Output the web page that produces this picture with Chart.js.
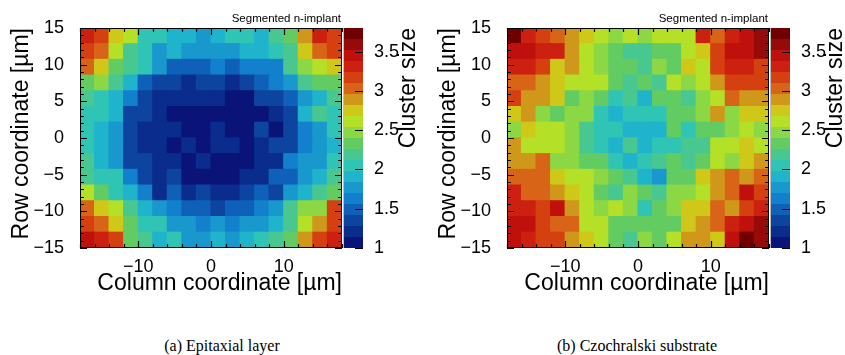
<!DOCTYPE html>
<html>
<head>
<meta charset="utf-8">
<title>Cluster size maps</title>
<script src="https://cdn.jsdelivr.net/npm/chart.js@4"></script>
<style>
  body { margin: 0; background: #fff; width: 845px; height: 355px; position: relative; overflow: hidden; }
  .panel { position: absolute; top: 0; width: 418px; height: 300px; }
  .caption { position: absolute; top: 337px; font-family: "Liberation Serif", serif; font-size: 16px; color: #000;
             transform: translateX(-50%); white-space: nowrap; }
</style>
</head>
<body>
<div class="panel" style="left:0"><canvas id="epi" width="418" height="300"></canvas></div>
<div class="panel" style="left:427px"><canvas id="cz" width="418" height="300"></canvas></div>
<div class="caption" style="left:222px">(a) Epitaxial layer</div>
<div class="caption" style="left:637px">(b) Czochralski substrate</div>

<script>
// binning of the pixel maps (µm)
const xRange = [-18, 18], xBins = 18;
const yRange = [-15, 15], yBins = 14;
// colour scale of the cluster size
const zRange = [1, 3.8];
const palette = ['#0a1478', '#0a2c8c', '#0c44a0', '#0e60b8', '#1280cc', '#1898cc', '#20b4cc', '#30c4b4',
                 '#48c890', '#62cc62', '#8cd844', '#b4e028', '#d0c818', '#d0981a', '#d86418', '#d44010',
                 '#cc2010', '#c0100c', '#960a0a', '#700000'];

// mean cluster size per bin, rows from row coordinate +15 (top) down to -15
const clusterEpi = [
  [3.31, 3.17, 2.75, 2.61, 2.05, 2.05, 1.91, 1.91, 1.77, 1.91, 2.05, 2.05, 1.91, 2.19, 2.33, 2.89, 3.31, 3.17],
  [3.17, 3.03, 2.61, 2.19, 2.05, 1.77, 1.91, 1.77, 1.77, 1.77, 1.77, 1.91, 1.91, 2.05, 2.19, 2.75, 3.03, 3.17],
  [3.03, 2.75, 2.33, 2.19, 2.05, 1.77, 1.49, 1.49, 1.49, 1.63, 1.49, 1.63, 1.63, 1.63, 2.19, 2.47, 2.61, 2.75],
  [2.33, 2.47, 2.19, 1.91, 1.49, 1.35, 1.35, 1.21, 1.35, 1.35, 1.21, 1.35, 1.49, 1.63, 1.77, 2.19, 2.33, 2.33],
  [2.19, 2.05, 1.91, 1.63, 1.35, 1.21, 1.21, 1.21, 1.21, 1.21, 1.07, 1.07, 1.35, 1.35, 1.49, 1.77, 1.91, 2.19],
  [2.05, 2.05, 1.91, 1.35, 1.35, 1.21, 1.07, 1.07, 1.07, 1.07, 1.07, 1.07, 1.07, 1.21, 1.35, 1.91, 2.19, 2.05],
  [2.05, 1.91, 1.77, 1.35, 1.21, 1.21, 1.21, 1.07, 1.07, 1.21, 1.07, 1.07, 1.35, 1.07, 1.35, 1.63, 1.77, 2.05],
  [2.05, 1.91, 1.77, 1.35, 1.21, 1.21, 1.07, 1.21, 1.07, 1.21, 1.21, 1.07, 1.21, 1.35, 1.35, 1.63, 1.77, 1.91],
  [2.19, 1.91, 1.77, 1.35, 1.35, 1.21, 1.21, 1.07, 1.21, 1.07, 1.07, 1.07, 1.21, 1.21, 1.63, 1.77, 1.77, 2.05],
  [2.19, 2.05, 2.05, 1.63, 1.35, 1.21, 1.35, 1.07, 1.07, 1.07, 1.07, 1.21, 1.21, 1.49, 1.49, 1.77, 1.91, 2.19],
  [2.61, 2.33, 2.05, 1.91, 1.63, 1.21, 1.49, 1.21, 1.35, 1.21, 1.21, 1.35, 1.49, 1.35, 1.77, 1.91, 2.19, 2.33],
  [3.03, 2.75, 2.61, 2.19, 1.91, 1.77, 1.63, 1.49, 1.49, 1.35, 1.49, 1.49, 1.63, 1.77, 2.19, 2.47, 2.47, 3.17],
  [3.17, 3.03, 2.75, 2.33, 2.05, 2.05, 1.77, 1.77, 1.63, 1.77, 1.63, 1.77, 1.77, 1.91, 2.19, 2.61, 2.89, 3.17],
  [3.45, 3.31, 3.17, 2.33, 2.19, 1.91, 2.05, 1.77, 1.77, 1.91, 1.77, 1.91, 2.05, 2.19, 2.33, 2.89, 3.17, 3.31]
];
const clusterCz = [
  [3.73, 3.31, 3.17, 3.03, 2.89, 2.75, 2.61, 2.47, 2.61, 2.47, 2.61, 2.61, 2.61, 3.31, 3.03, 3.31, 3.45, 3.59],
  [3.45, 3.45, 3.31, 3.31, 2.89, 2.61, 2.47, 2.33, 2.19, 2.19, 2.33, 2.33, 2.61, 2.75, 3.17, 3.45, 3.45, 3.59],
  [3.31, 3.31, 3.17, 2.75, 2.89, 2.61, 2.47, 2.33, 2.33, 2.19, 2.47, 2.33, 2.75, 2.61, 3.17, 3.31, 3.31, 3.17],
  [3.03, 3.03, 2.89, 2.75, 2.61, 2.61, 2.61, 2.33, 2.19, 2.33, 2.19, 2.61, 2.47, 2.61, 2.89, 3.17, 3.17, 3.17],
  [3.17, 2.89, 2.89, 2.75, 2.33, 2.47, 2.33, 2.05, 2.19, 1.91, 2.33, 2.33, 2.19, 2.47, 2.61, 3.03, 2.89, 2.89],
  [2.75, 2.89, 2.47, 2.33, 2.47, 2.47, 2.05, 1.91, 2.05, 2.05, 2.05, 2.33, 2.33, 2.47, 2.89, 2.47, 2.75, 2.75],
  [2.47, 2.75, 2.61, 2.61, 2.47, 2.19, 2.05, 2.05, 1.91, 1.91, 1.91, 2.33, 2.05, 2.33, 2.33, 2.47, 2.61, 2.47],
  [2.89, 2.61, 2.61, 2.61, 2.47, 2.19, 2.05, 1.91, 2.19, 1.91, 2.05, 2.05, 2.19, 2.19, 2.61, 2.61, 2.75, 2.61],
  [2.89, 2.89, 3.03, 2.47, 2.47, 2.33, 2.33, 2.05, 1.91, 2.05, 2.19, 2.33, 2.19, 2.33, 2.61, 2.47, 2.75, 2.89],
  [3.03, 3.03, 3.03, 2.75, 2.61, 2.61, 2.47, 2.33, 2.19, 1.91, 1.77, 2.33, 2.33, 2.75, 2.89, 3.03, 2.89, 3.03],
  [3.31, 3.03, 3.03, 2.89, 2.75, 2.61, 2.33, 2.19, 2.47, 2.33, 2.19, 2.47, 2.47, 2.61, 2.89, 3.03, 3.45, 3.17],
  [3.31, 3.31, 3.17, 3.45, 2.89, 2.61, 2.47, 2.61, 2.47, 2.05, 2.33, 2.47, 2.75, 2.75, 3.03, 2.89, 3.17, 3.31],
  [3.45, 3.45, 3.17, 3.03, 3.03, 2.61, 2.61, 2.33, 2.33, 2.33, 2.33, 2.33, 2.75, 2.89, 3.03, 3.31, 3.45, 3.59],
  [3.45, 3.31, 3.17, 3.17, 2.89, 2.75, 2.61, 2.33, 2.19, 2.47, 2.33, 2.61, 2.89, 2.89, 2.75, 3.45, 3.73, 3.59]
];

const FONT = '"Liberation Sans", Arial, Helvetica, sans-serif';

function colourFor(v) {
  const i = Math.floor((v - zRange[0]) / (zRange[1] - zRange[0]) * palette.length);
  return palette[Math.max(0, Math.min(palette.length - 1, i))];
}

// every bin becomes a floating bar spanning its row interval
function binsToBars(rows) {
  const dx = (xRange[1] - xRange[0]) / xBins;
  const dy = (yRange[1] - yRange[0]) / yBins;
  const data = [], colours = [];
  rows.forEach((row, r) => {
    const hi = yRange[1] - r * dy;
    row.forEach((v, c) => {
      data.push({ x: xRange[0] + (c + 0.5) * dx, y: [hi - dy, hi], v: v });
      colours.push(colourFor(v));
    });
  });
  return { data, colours };
}

const minus = v => (v < 0 ? '\u2212' + Math.abs(v) : String(v));
const plain = v => String(Math.round(v * 10) / 10);

// frame, inward tick marks, colour bar and the small labels (ROOT look)
const rootFrame = {
  id: 'rootFrame',
  afterDatasetsDraw(chart) {
    const { ctx, chartArea: a, scales } = chart;
    const x = scales.x, y = scales.y, z = scales.z;
    ctx.save();
    ctx.strokeStyle = '#000';
    ctx.lineWidth = 1.2;
    ctx.beginPath();
    for (let v = xRange[0]; v <= xRange[1]; v += 2) {
      const px = Math.round(x.getPixelForValue(v)) + 0.5;
      const len = v % 10 === 0 ? 7 : 4;
      ctx.moveTo(px, a.bottom); ctx.lineTo(px, a.bottom - len);
      ctx.moveTo(px, a.top); ctx.lineTo(px, a.top + len);
    }
    for (let v = yRange[0]; v <= yRange[1]; v += 1) {
      const py = Math.round(y.getPixelForValue(v)) + 0.5;
      const len = v % 5 === 0 ? 7 : 4;
      ctx.moveTo(a.left, py); ctx.lineTo(a.left + len, py);
      ctx.moveTo(a.right, py); ctx.lineTo(a.right - len, py);
    }
    ctx.stroke();
    ctx.lineWidth = 1;
    ctx.strokeRect(a.left + 0.5, a.top + 0.5, a.right - a.left - 1, a.bottom - a.top - 1);

    // colour bar next to the frame
    const barL = a.right + 1, barW = 20;
    const step = (zRange[1] - zRange[0]) / palette.length;
    palette.forEach((col, i) => {
      const y0 = Math.round(z.getPixelForValue(zRange[0] + i * step));
      const y1 = Math.round(z.getPixelForValue(zRange[0] + (i + 1) * step));
      ctx.fillStyle = col;
      ctx.fillRect(barL, y1, barW, y0 - y1);
    });
    ctx.strokeStyle = '#bbb';
    ctx.beginPath();
    ctx.moveTo(barL + 0.5, a.top); ctx.lineTo(barL + 0.5, a.bottom);
    ctx.stroke();
    ctx.strokeStyle = '#000';
    ctx.lineWidth = 1.2;
    ctx.beginPath();
    z.ticks.forEach(t => {
      const py = Math.round(z.getPixelForValue(t.value)) + 0.5;
      ctx.moveTo(barL + barW, py); ctx.lineTo(barL + barW - 8, py);
    });
    ctx.stroke();

    ctx.fillStyle = '#000';
    ctx.font = '23px ' + FONT;
    ctx.translate(a.right + 73, a.top);
    ctx.rotate(-Math.PI / 2);
    ctx.textAlign = 'right';
    ctx.textBaseline = 'alphabetic';
    ctx.fillText('Cluster size', 0, 0);
    ctx.restore();

    ctx.save();
    ctx.fillStyle = '#000';
    ctx.font = '11.5px ' + FONT;
    ctx.textAlign = 'right';
    ctx.fillText('Segmented n-implant', a.right - 1, a.top - 6);
    ctx.restore();
  }
};

function drawMap(canvasId, rows) {
  const bars = binsToBars(rows);
  return new Chart(document.getElementById(canvasId), {
    type: 'bar',
    data: {
      datasets: [{
        data: bars.data,
        backgroundColor: bars.colours,
        borderWidth: 0,
        barPercentage: 1,
        categoryPercentage: 1,
        inflateAmount: 0.6
      }]
    },
    options: {
      responsive: false,
      animation: false,
      events: [],
      layout: { padding: { top: 28, left: 0, right: 0, bottom: 0 } },
      plugins: { legend: { display: false }, tooltip: { enabled: false } },
      scales: {
        x: {
          type: 'linear', min: xRange[0], max: xRange[1], offset: false,
          grid: { display: false }, border: { display: false },
          ticks: { stepSize: 10, includeBounds: false, padding: 0, color: '#000',
                   font: { family: FONT, size: 18 }, callback: minus },
          title: { display: true, text: 'Column coordinate [\u00b5m]', align: 'end', color: '#000',
                   font: { family: FONT, size: 23 }, padding: { bottom: 3 } },
          afterFit: s => { s.height = 52; }
        },
        y: {
          type: 'linear', min: yRange[0], max: yRange[1],
          grid: { display: false }, border: { display: false },
          ticks: { stepSize: 5, padding: 8, color: '#000', font: { family: FONT, size: 18 }, callback: minus },
          title: { display: true, text: 'Row coordinate [\u00b5m]', align: 'end', color: '#000',
                   font: { family: FONT, size: 23 }, padding: { top: 8 } },
          afterFit: s => { s.width = 80; }
        },
        z: {
          type: 'linear', position: 'right', min: zRange[0], max: zRange[1],
          // invisible tick marks only push the labels past the colour bar
          grid: { display: true, drawOnChartArea: false, drawTicks: true, tickLength: 32, color: 'rgba(0,0,0,0)' },
          border: { display: false },
          ticks: { stepSize: 0.5, includeBounds: false, padding: 0, color: '#000',
                   font: { family: FONT, size: 18 }, callback: plain },
          afterFit: s => { s.width = 76; }
        }
      }
    },
    plugins: [rootFrame]
  });
}

drawMap('epi', clusterEpi);
drawMap('cz', clusterCz);
</script>
</body>
</html>
